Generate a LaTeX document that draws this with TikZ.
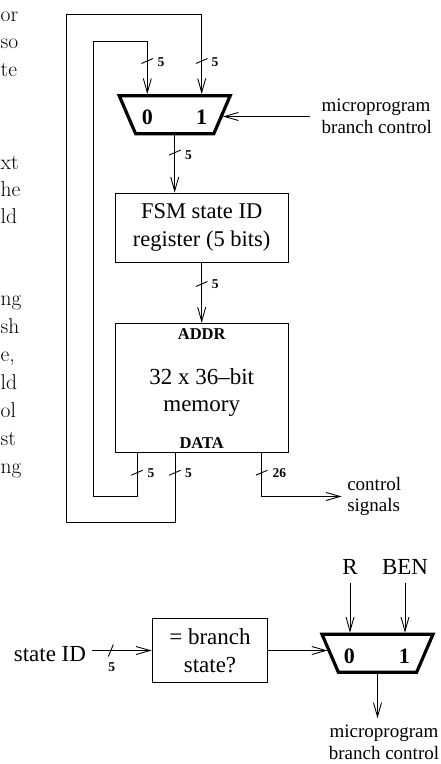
\documentclass[tikz,border=0pt]{standalone}
\usepackage{fontspec}
\usetikzlibrary{arrows.meta}
\newfontfamily\tm{Liberation Serif}
\newfontfamily\lmr{Latin Modern Roman}
\tikzset{
  wire/.style={line width=0.9pt},
  arr/.style={wire,-{Straight Barb[length=14pt,width=8pt]}},
  box/.style={draw,line width=0.9pt,inner sep=0pt,align=center,font=\tm\fontsize{22.5}{28.4}\selectfont},
  muxbox/.style={minimum width=111pt,minimum height=38pt,inner sep=0pt,outer sep=0pt},
  muxline/.style={line width=3.2pt,line join=miter},
  muxlbl/.style={font=\tm\bfseries\fontsize{22}{24}\selectfont,inner sep=0pt},
  buslbl/.style={font=\tm\bfseries\fontsize{13.5}{15}\selectfont,inner sep=0pt,anchor=west},
  lbl/.style={font=\tm\fontsize{19}{21.6}\selectfont,align=left,inner sep=0pt,outer sep=0pt},
  big/.style={font=\tm\fontsize{23}{27}\selectfont,inner sep=0pt,outer sep=0pt},
  side/.style={font=\lmr\fontsize{21.5}{27}\selectfont,inner sep=0pt,anchor=base west},
  busmark/.pic={\draw[wire] (-5.8,2.5) -- (5.8,-2.5);},
  hbusmark/.pic={\draw[wire] (-2.5,6) -- (2.5,-6);},
}
\begin{document}
\begin{tikzpicture}[x=1pt,y=-1pt]
\useasboundingbox (0,0) rectangle (441,764);

% cut-off text on the left
\node[side] (t1) at (0.5,21) {or};
\node[side] (t2) at (0.5,48.7) {so};
\node[side] (t3) at (0.5,76.4) {te};
\node[side] (t4) at (0.5,169.5) {xt};
\node[side] (t5) at (0.5,196.5) {he};
\node[side] (t6) at (0.5,223.5) {ld};
\node[side] (t7) at (0.5,305) {ng};
\node[side] (t8) at (0.5,333) {sh};
\node[side] (t9) at (0.5,361) {e,};
\node[side] (t10) at (0.5,389) {ld};
\node[side] (t11) at (0.5,417) {ol};
\node[side] (t12) at (0.5,445) {st};
\node[side] (t13) at (0.5,473) {ng};

% ---- upper diagram ----
\node[muxbox] (mux1) at (174.7,114.7) {};
\draw[muxline] (mux1.north west) -- (mux1.north east) -- ([xshift=-16.4pt]mux1.south east) -- ([xshift=16.4pt]mux1.south west) -- cycle;
\node[muxlbl] (m1a) at (147.3,117) {0};
\node[muxlbl] (m1b) at (201.7,117) {1};
\coordinate (m0) at ([xshift=-27.4pt,yshift=1.6pt]mux1.north);
\coordinate (m1) at ([xshift=27pt,yshift=1.6pt]mux1.north);
\coordinate (mux1r) at ([xshift=-7.4pt]mux1.east);

\node[lbl,anchor=west,inner xsep=11.7pt] (mbc1) at (310,116.5) {microprogram\\branch control};
\draw[arr] (mbc1.west) -- (mbc1.west -| mux1r);

\node[box,minimum width=173.3pt,minimum height=69.3pt] (fsm) at (201.7,227.7) {FSM state ID\\register (5 bits)};
\node[box,minimum width=173.3pt,minimum height=129.4pt] (mem) at (201.7,388) {};
\node[big,align=center,font=\tm\fontsize{23}{26.6}\selectfont] (memtxt) at (201.7,392.5) {32 x 36–bit\\memory};
\node[font=\tm\bfseries\fontsize{16.5}{18}\selectfont,inner sep=0pt] (addr) at (201.7,334) {ADDR};
\node[font=\tm\bfseries\fontsize{16.5}{18}\selectfont,inner sep=0pt] (data) at (201.7,443.3) {DATA};

\draw[arr] (mux1.south) -- (mux1.south |- fsm.north);
\draw[arr] (fsm.south) -- (mem.north);

\coordinate (x0) at (137,0);
\coordinate (x1) at (175,0);
\coordinate (x26) at (261.7,0);
\coordinate (ilb) at (93.3,496);
\coordinate (ilt) at (93.3,41.7);
\coordinate (olb) at (66,522.7);
\coordinate (olt) at (66,14);

\draw[arr] (mem.south -| x0) |- (ilb) -- (ilt) -| (m0);
\draw[arr] (mem.south -| x1) |- (olb) -- (olt) -| (m1);

\node[lbl,anchor=west,inner xsep=5.6pt] (cs) at (341.7,496.5) {control\\signals};
\draw[arr] (mem.south -| x26) |- (cs.west);

% bus width marks
\pic at (147.3,61) {busmark};
\pic at (201.7,61) {busmark};
\pic at (175,152.5) {busmark};
\pic at (201.7,284) {busmark};
\pic at (137,472.7) {busmark};
\pic at (175,472.7) {busmark};
\pic at (261.7,472.7) {busmark};
\node[buslbl] (b1) at (157.5,62) {5};
\node[buslbl] (b2) at (211.3,62) {5};
\node[buslbl] (b3) at (185,154.7) {5};
\node[buslbl] (b4) at (211.7,284.3) {5};
\node[buslbl] (b5) at (147.3,473.3) {5};
\node[buslbl] (b6) at (185,473.3) {5};
\node[buslbl] (b7) at (272.3,473.3) {26};

% ---- lower diagram ----
\node[big,anchor=east,inner xsep=5.7pt] (sid) at (91.7,654.5) {state ID};
\node[box,font=\tm\fontsize{23}{28.4}\selectfont,minimum width=115.7pt,minimum height=64.4pt] (bbox) at (210,650.5) {= branch\\state?};
\draw[arr] (sid.east |- bbox.west) -- (bbox.west);
\pic at (110.8,650.5) {hbusmark};
\node[buslbl,anchor=center] (b8) at (111.7,667.5) {5};

\node[muxbox] (mux2) at (377.5,653.3) {};
\draw[muxline] (mux2.north west) -- (mux2.north east) -- ([xshift=-16.4pt]mux2.south east) -- ([xshift=16.4pt]mux2.south west) -- cycle;
\node[muxlbl] (m2a) at (349.3,656) {0};
\node[muxlbl] (m2b) at (404.3,656) {1};
\coordinate (m2l) at ([xshift=5.5pt]mux2.west);
\coordinate (r2) at ([xshift=-27.5pt,yshift=1.6pt]mux2.north);
\coordinate (b2) at ([xshift=27.5pt,yshift=1.6pt]mux2.north);
\draw[arr] (bbox.east) -- (bbox.east -| m2l);

\node[big] (R) at (350,566.7) {R};
\node[big] (BEN) at (405,566.7) {BEN};
\draw[arr] ([yshift=-9pt]R.south) -- (r2);
\draw[arr] ([yshift=-9pt]BEN.south) -- (b2);

\node[lbl,align=center,anchor=north,inner ysep=6.7pt] (mbc2) at (384,718.3) {microprogram\\branch control};
\draw[arr] (mux2.south) -- (mux2.south |- mbc2.north);
\end{tikzpicture}
\end{document}
